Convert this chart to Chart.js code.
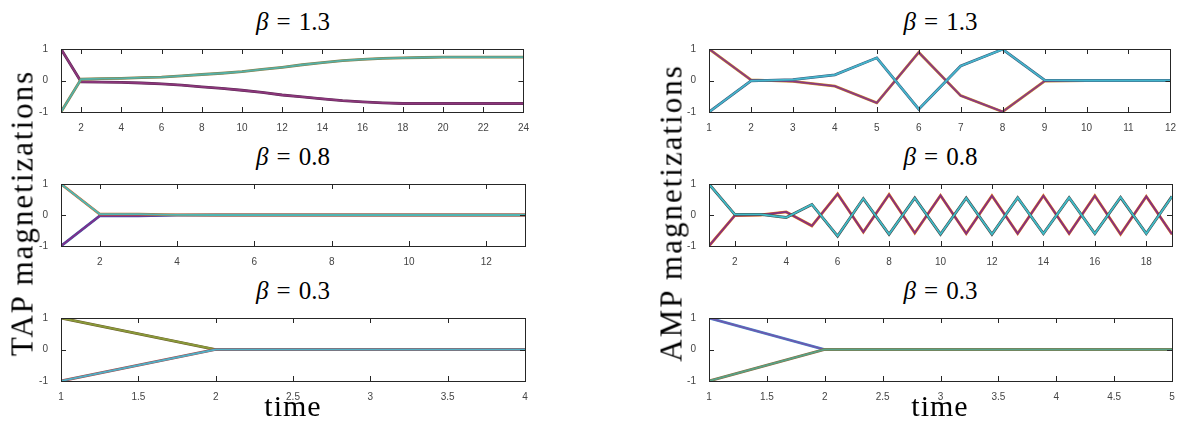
<!DOCTYPE html>
<html>
<head>
<meta charset="utf-8">
<script src="https://cdn.jsdelivr.net/npm/chart.js@4.4.1/dist/chart.umd.min.js"></script>
<style>
  html, body { margin: 0; padding: 0; background: #fff; }
  #fig { position: relative; width: 1177px; height: 424px; overflow: hidden; }
  #fig canvas { position: absolute; }
  .lbl { position: absolute; font-family: "Liberation Serif", serif; color: #000; white-space: nowrap; line-height: 1; }
  .title { font-size: 25px; transform: translateX(-50%); }
  .title .eq { margin: 0 8px; }
  .xlab { font-size: 30px; letter-spacing: 1px; transform: translateX(-50%); }
  .ylab { font-size: 31px; letter-spacing: 2px; transform: translate(-50%, -50%) rotate(-90deg); }
</style>
</head>
<body>
<div id="fig"></div>
<script>
// TAP iterations
const tap13Time = [1, 2, 3, 4, 5, 6, 7, 8, 9, 10, 11, 12, 13, 14, 15, 16, 17, 18, 19, 20, 21, 22, 23, 24];
const tap13Up = [-1, 0.04, 0.06, 0.07, 0.09, 0.11, 0.15, 0.19, 0.23, 0.28, 0.35, 0.42, 0.50, 0.57, 0.63, 0.67, 0.70, 0.72, 0.73, 0.74, 0.74, 0.74, 0.74, 0.74];
const tap13Down = [1, -0.04, -0.05, -0.06, -0.08, -0.11, -0.15, -0.20, -0.25, -0.31, -0.38, -0.46, -0.52, -0.58, -0.64, -0.68, -0.71, -0.73, -0.73, -0.73, -0.73, -0.73, -0.73, -0.73];

const tap08Time = [1, 2, 3, 4, 5, 6, 7, 8, 9, 10, 11, 12, 13];
const tap08Down = [-1, -0.03, -0.025, -0.005, 0, 0, 0, 0, 0, 0, 0, 0, 0];
const tap08Up = [1, 0.03, 0.025, 0.005, 0, 0, 0, 0, 0, 0, 0, 0, 0];

const tap03Time = [1, 2, 3, 4];
const tap03Up = [1, 0, 0, 0];
const tap03Down = [-1, 0, 0, 0];

// AMP iterations
const amp13Time = [1, 2, 3, 4, 5, 6, 7, 8, 9, 10, 11, 12];
const amp13Purple = [1, 0.02, -0.03, -0.18, -0.71, 0.89, -0.48, -0.99, -0.02, 0, 0, 0];
const amp13Teal = [-1, -0.01, 0.03, 0.18, 0.72, -0.91, 0.46, 0.99, 0.01, 0, 0, 0];

const amp08Time = [1, 2, 3, 4, 5, 6, 7, 8, 9, 10, 11, 12, 13, 14, 15, 16, 17, 18, 19];
const amp08Purple = [-1, -0.02, 0, 0.1, -0.35, 0.68, -0.55, 0.66, -0.58, 0.63, -0.6, 0.62, -0.6, 0.62, -0.6, 0.62, -0.62, 0.6, -0.62];
const amp08Teal = [1, 0.02, 0.02, -0.08, 0.34, -0.68, 0.53, -0.62, 0.55, -0.62, 0.55, -0.62, 0.56, -0.6, 0.56, -0.6, 0.57, -0.6, 0.6];

const amp03Time = [1, 2, 3, 4, 5];
const amp03Up = [1, 0, 0, 0, 0];
const amp03Down = [-1, 0, 0, 0, 0];

// tick labels
const tap13XTicks = [2, 4, 6, 8, 10, 12, 14, 16, 18, 20, 22, 24];
const tap08XTicks = [2, 4, 6, 8, 10, 12];
const tap03XTicks = [1, 1.5, 2, 2.5, 3, 3.5, 4];
const amp13XTicks = [1, 2, 3, 4, 5, 6, 7, 8, 9, 10, 11, 12];
const amp08XTicks = [2, 4, 6, 8, 10, 12, 14, 16, 18];
const amp03XTicks = [1, 1.5, 2, 2.5, 3, 3.5, 4, 4.5, 5];
const yTicks = [-1, 0, 1];

const betas = ['1.3', '0.8', '0.3'];

// each curve = a thin coloured line over a slightly wider darker one,
// listed bottom to top
const panels = [
  {left: 61, top: 44, w: 464, h: 68, beta: 0, time: tap13Time, xTicks: tap13XTicks, lines: [
    {y: tap13Down, edge: '#5a2a50', color: '#8c367c'},
    {y: tap13Up, edge: '#8a7a40', color: '#55b0a6'}]},
  {left: 61, top: 179, w: 464, h: 67, beta: 1, time: tap08Time, xTicks: tap08XTicks, lines: [
    {y: tap08Down, edge: '#3a5aa0', color: '#7e2f8e'},
    {y: tap08Up, edge: '#c8682a', color: '#4fb6b4'}]},
  {left: 61, top: 313, w: 464, h: 68, beta: 2, time: tap03Time, xTicks: tap03XTicks, lines: [
    {y: tap03Up, edge: '#6a5a2a', color: '#8a9a3a'},
    {y: tap03Down, edge: '#a04040', color: '#52aec4'}]},
  {left: 709, top: 44, w: 463, h: 68, beta: 0, time: amp13Time, xTicks: amp13XTicks, lines: [
    {y: amp13Purple, edge: '#c8862a', color: '#8b3a7f'},
    {y: amp13Teal, edge: '#3a5a7a', color: '#45b5cc'}]},
  {left: 709, top: 179, w: 463, h: 67, beta: 1, time: amp08Time, xTicks: amp08XTicks, lines: [
    {y: amp08Purple, edge: '#d9701e', color: '#86307e'},
    {y: amp08Teal, edge: '#404040', color: '#40bcc8'}]},
  {left: 709, top: 313, w: 463, h: 68, beta: 2, time: amp03Time, xTicks: amp03XTicks, lines: [
    {y: amp03Up, edge: '#4a88c8', color: '#6a5ab0'},
    {y: amp03Down, edge: '#8a6a3a', color: '#58a286'}]}
];

const PAD_L = 30, PAD_T = 6, PAD_R = 6, PAD_B = 22;

// box around the axes, ticks pointing inwards on all four sides
const frame = {
  id: 'frame',
  afterDraw(chart) {
    const {ctx, chartArea: a} = chart;
    const x = chart.scales.x, y = chart.scales.y;
    const len = 5;
    ctx.save();
    ctx.strokeStyle = '#262626';
    ctx.lineWidth = 1;
    ctx.beginPath();
    x.ticks.forEach(t => {
      const px = Math.round(x.getPixelForValue(t.value)) + 0.5;
      ctx.moveTo(px, a.bottom); ctx.lineTo(px, a.bottom - len);
      ctx.moveTo(px, a.top); ctx.lineTo(px, a.top + len);
    });
    y.ticks.forEach(t => {
      const py = Math.round(y.getPixelForValue(t.value)) + 0.5;
      ctx.moveTo(a.left, py); ctx.lineTo(a.left + len, py);
      ctx.moveTo(a.right, py); ctx.lineTo(a.right - len, py);
    });
    ctx.stroke();
    ctx.strokeRect(Math.round(a.left) + 0.5, Math.round(a.top) + 0.5,
      Math.round(a.right - a.left), Math.round(a.bottom - a.top));
    ctx.restore();
  }
};

const fig = document.getElementById('fig');
const tickFont = {family: '"Liberation Sans", Arial, sans-serif', size: 10};

function addLabel(cls, html, left, top) {
  const d = document.createElement('div');
  d.className = 'lbl ' + cls;
  d.innerHTML = html;
  d.style.left = left + 'px';
  d.style.top = top + 'px';
  fig.appendChild(d);
}

panels.forEach(p => {
  const cv = document.createElement('canvas');
  const cw = p.w + PAD_L + PAD_R, ch = p.h + PAD_T + PAD_B;
  cv.width = cw; cv.height = ch;
  cv.style.width = cw + 'px'; cv.style.height = ch + 'px';
  cv.style.left = (p.left - PAD_L) + 'px';
  cv.style.top = (p.top - PAD_T) + 'px';
  fig.appendChild(cv);

  // chart.js paints dataset 0 last, so the list is reversed at the end
  const datasets = [];
  p.lines.forEach(l => {
    datasets.push({data: p.time.map((t, i) => ({x: t, y: l.y[i]})), borderColor: l.edge, borderWidth: 2.8});
    datasets.push({data: p.time.map((t, i) => ({x: t, y: l.y[i]})), borderColor: l.color, borderWidth: 1.8});
  });
  datasets.reverse();

  new Chart(cv, {
    type: 'line',
    data: {datasets: datasets},
    options: {
      responsive: false,
      animation: false,
      devicePixelRatio: 1,
      layout: {padding: {top: PAD_T, right: PAD_R, left: 0, bottom: 0}},
      elements: {point: {radius: 0}, line: {tension: 0}},
      plugins: {legend: {display: false}, tooltip: {enabled: false}},
      scales: {
        x: {
          type: 'linear',
          min: p.time[0],
          max: p.time[p.time.length - 1],
          afterBuildTicks: s => { s.ticks = p.xTicks.map(v => ({value: v})); },
          afterFit: s => { s.height = PAD_B; },
          grid: {display: false},
          border: {display: false},
          ticks: {font: tickFont, color: '#444', padding: 2, maxRotation: 0, autoSkip: false,
            callback: v => String(v)}
        },
        y: {
          min: -1,
          max: 1,
          afterBuildTicks: s => { s.ticks = yTicks.map(v => ({value: v})); },
          afterFit: s => { s.width = PAD_L; },
          grid: {display: false},
          border: {display: false},
          ticks: {font: tickFont, color: '#444', padding: 5, callback: v => String(v)}
        }
      }
    },
    plugins: [frame]
  });

  const cx = p.left + p.w / 2;
  addLabel('title', '<i>β</i><span class="eq">=</span>' + betas[p.beta], cx, p.top - 14 - 21);
});

addLabel('xlab', 'time', 293, 391);
addLabel('xlab', 'time', 940, 391);
addLabel('ylab', 'TAP magnetizations', 21.5, 212.5);
addLabel('ylab', 'AMP magnetizations', 670.5, 212.5);
</script>
</body>
</html>
